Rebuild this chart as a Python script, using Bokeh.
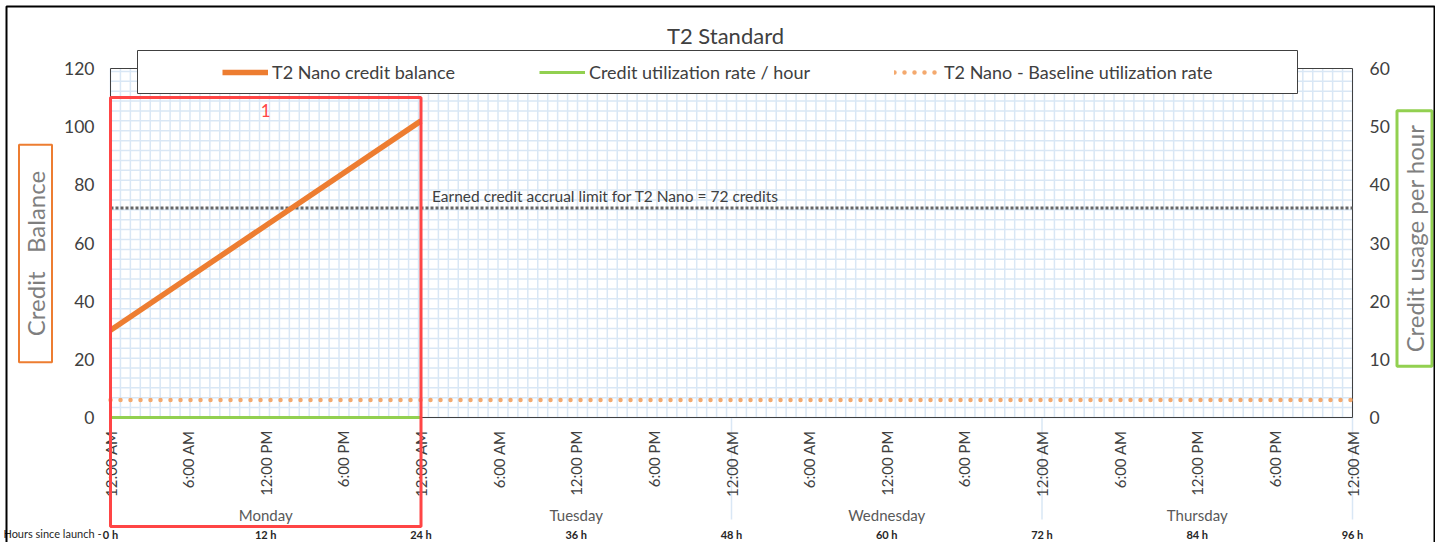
import numpy as np
from math import pi
from bokeh.plotting import figure
from bokeh.models import (Range1d, LinearAxis, FixedTicker, Legend, LegendItem,
                          Label, BoxAnnotation)
from bokeh.embed import file_html
from bokeh.resources import INLINE

# ---------------- data ----------------
title_text = "T2 Standard"
hours_balance = [0, 24]
credit_balance = [30, 102]
hours_usage = [0, 24]
usage_rate = [0, 0]
hours_baseline = [0, 96]
baseline_rate = [3, 3]
hours_limit = [0, 96]
accrual_limit = [72, 72]
limit_text = "Earned credit accrual limit for T2 Nano = 72 credits"

time_ticks = list(range(0, 97, 6))
time_labels = ["12:00 AM", "6:00 AM", "12:00 PM", "6:00 PM"] * 4 + ["12:00 AM"]
day_ticks = [12, 36, 60, 84]
day_labels = ["Monday", "Tuesday", "Wednesday", "Thursday"]
day_separators = [48, 72, 96]
hour_ticks = list(range(0, 97, 12))
hour_labels = ["0 h", "12 h", "24 h", "36 h", "48 h", "60 h", "72 h", "84 h", "96 h"]
left_ticks = [0, 20, 40, 60, 80, 100, 120]
right_ticks = [0, 10, 20, 30, 40, 50, 60]
highlight_start, highlight_end, highlight_top = 0, 24, 110
highlight_text = "1"
left_title = "Credit\u00a0\u00a0\u00a0Balance"
right_title = "Credit usage per hour"
hours_caption = "Hours since launch -"

# ---------------- layout (pixel geometry of the canvas) ----------------
W, H = 1435, 542
FL, FR, FT, FB = 110, 1352, 68, 417      # plot box in canvas pixels
X0, X1, Y0, Y1 = 0, 96, 0, 120           # plot box in data units
R1 = 60                                   # right axis top
SX = (FR - FL) / (X1 - X0)
SY = (FB - FT) / (Y1 - Y0)


def fx(px):
    return X0 + (px - FL) / SX


def fy(py):
    return Y0 + (FB - py) / SY


FONT = "Lato"
ORANGE = "#ED7D31"
GREEN = "#92D050"
DOT_ORANGE = "#F4A96E"
GRID = "#D9E7F5"
RED = "#FF4545"
TXT = "#404040"

p = figure(width=W, height=H, x_range=Range1d(fx(0), fx(W)),
           y_range=Range1d(fy(H), fy(0)), output_backend="svg",
           toolbar_location=None, min_border=0)
p.min_border_left = p.min_border_right = p.min_border_top = p.min_border_bottom = 0
k = R1 / (Y1 - Y0)
p.extra_y_ranges = {"usage": Range1d(fy(H) * k, fy(0) * k)}
p.outline_line_color = None
p.background_fill_color = "white"
p.border_fill_color = "white"
p.xgrid.visible = False
p.ygrid.visible = False

# graph-paper grid inside the plot box
gx = np.arange(X0, X1 + 1e-6, (X1 - X0) / 125)
gy = np.arange(Y0, Y1 + 1e-6, 3.4)
p.segment(x0=gx, y0=Y0, x1=gx, y1=Y1, line_color=GRID, line_width=1.5)
p.segment(x0=X0, y0=gy, x1=X1, y1=gy, line_color=GRID, line_width=1.5)
# day separators below the axis
p.segment(x0=day_separators, y0=Y0, x1=day_separators, y1=fy(519),
          line_color=GRID, line_width=1.5)
# plot box outline
p.line([X0, X1, X1, X0, X0], [Y0, Y0, Y1, Y1, Y0], line_color="#404040", line_width=1)


def style_axis(ax, size, color=TXT, standoff=0):
    ax.major_tick_line_color = None
    ax.minor_tick_line_color = None
    ax.major_tick_out = 0
    ax.major_tick_in = 0
    ax.minor_tick_out = 0
    ax.minor_tick_in = 0
    ax.axis_line_color = None
    ax.major_label_text_font = FONT
    ax.major_label_text_font_size = size
    ax.major_label_text_color = color
    ax.major_label_standoff = standoff


# left axis
ya = p.yaxis[0]
ya.fixed_location = X0
ya.ticker = FixedTicker(ticks=left_ticks)
style_axis(ya, "17.5px", standoff=16)

# right axis
ra = LinearAxis(y_range_name="usage", ticker=FixedTicker(ticks=right_ticks),
                fixed_location=X1)
style_axis(ra, "17.5px", standoff=17)
p.add_layout(ra, "right")

# time-of-day axis
xa = p.xaxis[0]
xa.fixed_location = Y0
xa.ticker = FixedTicker(ticks=time_ticks)
xa.major_label_overrides = {t: l for t, l in zip(time_ticks, time_labels)}
xa.major_label_orientation = pi / 2
style_axis(xa, "15px", standoff=13)

# day axis
da = LinearAxis(ticker=FixedTicker(ticks=day_ticks), fixed_location=fy(503),
                major_label_overrides={t: l for t, l in zip(day_ticks, day_labels)})
style_axis(da, "15px", color="#595959", standoff=2)
p.add_layout(da, "below")

# hours-since-launch axis
ha = LinearAxis(ticker=FixedTicker(ticks=hour_ticks), fixed_location=fy(526),
                major_label_overrides={t: l for t, l in zip(hour_ticks, hour_labels)})
style_axis(ha, "11px", color="#262626", standoff=1)
ha.major_label_text_font_style = "bold"
p.add_layout(ha, "below")

# series
r_limit = p.line(hours_limit, accrual_limit, line_color="#666666", line_width=3,
                 line_dash="3 2")
r_base = p.line(hours_baseline, baseline_rate, y_range_name="usage",
                line_color=DOT_ORANGE, line_width=4.5, line_dash="0 10",
                line_cap="round")
r_usage = p.line(hours_usage, usage_rate, y_range_name="usage",
                 line_color=GREEN, line_width=3)
r_bal = p.line(hours_balance, credit_balance, line_color=ORANGE, line_width=5.5)

# annotations
p.add_layout(Label(x=highlight_end, y=accrual_limit[0], x_offset=11, y_offset=12,
                   text=limit_text, text_font=FONT, text_font_size="15.5px",
                   text_color=TXT, text_baseline="middle", text_align="left"))
p.add_layout(Label(x=(highlight_start + highlight_end) / 2, y=highlight_top,
                   y_offset=-13, text=highlight_text, text_font=FONT,
                   text_font_size="17px", text_color=RED, text_baseline="middle",
                   text_align="center"))
p.add_layout(BoxAnnotation(left=highlight_start, right=highlight_end,
                           top=highlight_top, bottom=fy(526), fill_color=None,
                           fill_alpha=0, line_color=RED, line_alpha=1, line_width=3))

# legend box + legend
p.add_layout(BoxAnnotation(left=fx(137), right=fx(1297), top=fy(50), bottom=fy(93),
                           fill_color="white", fill_alpha=1, line_color="#404040",
                           line_alpha=1, line_width=1))
legend = Legend(items=[
    LegendItem(label="T2 Nano credit balance", renderers=[r_bal]),
    LegendItem(label="Credit utilization rate / hour", renderers=[r_usage]),
    LegendItem(label="T2 Nano - Baseline utilization rate", renderers=[r_base]),
], orientation="horizontal", location=(222, H - 83), padding=10,
    spacing=84, glyph_width=46, glyph_height=22, label_height=22, label_standoff=4,
    border_line_color=None, background_fill_alpha=0,
    label_text_font=FONT, label_text_font_size="18px", label_text_color=TXT)
p.add_layout(legend)

# title
p.add_layout(Label(x=fx(725), y=fy(35), text=title_text, text_font=FONT,
                   text_font_size="22px", text_color=TXT, text_align="center",
                   text_baseline="middle"))

# boxed axis titles
p.add_layout(Label(x=fx(35), y=fy(253), text=left_title, angle=pi / 2,
                   text_font=FONT, text_font_size="24px", text_color="#7F7F7F",
                   text_align="center", text_baseline="middle",
                   border_line_color=ORANGE, border_line_width=2, padding=(26, 2)))
p.add_layout(Label(x=fx(1414), y=fy(238), text=right_title, angle=pi / 2,
                   text_font=FONT, text_font_size="24px", text_color="#7F7F7F",
                   text_align="center", text_baseline="middle",
                   border_line_color=GREEN, border_line_width=3, padding=(14, 3)))

# hours since launch caption
p.add_layout(Label(x=X0, y=fy(533), x_offset=-9, text=hours_caption,
                   text_font=FONT, text_font_size="11px", text_color="#262626",
                   text_align="right", text_baseline="middle"))

# outer border
p.add_layout(BoxAnnotation(left=fx(6), right=fx(W - 1), top=fy(6), bottom=fy(H + 50),
                           fill_color=None, fill_alpha=0, line_color="black",
                           line_alpha=1, line_width=2))

open("out.html", "w").write(file_html(p, INLINE))
